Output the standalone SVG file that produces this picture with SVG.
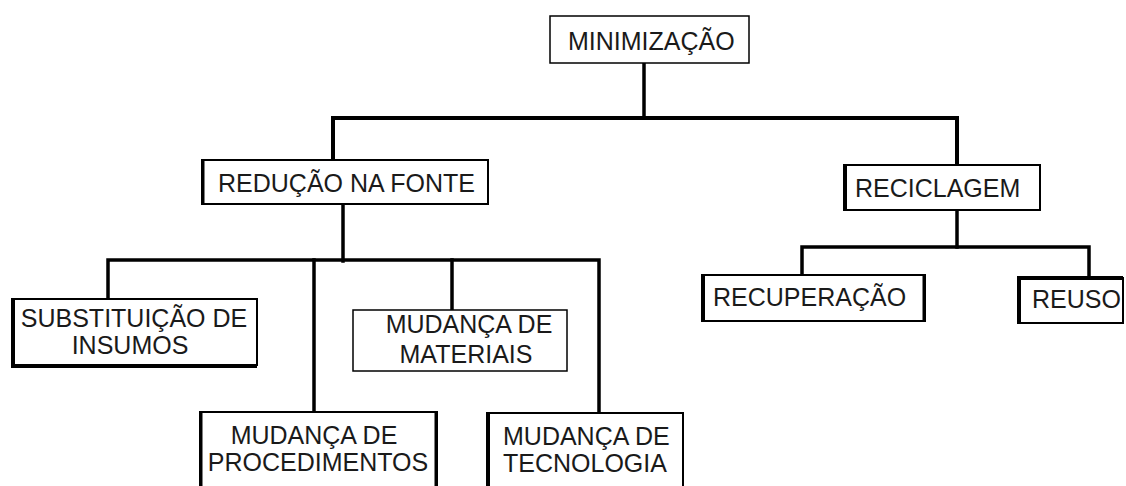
<svg xmlns="http://www.w3.org/2000/svg" width="1126" height="486" viewBox="0 0 1126 486">
<style>
.box{fill:#fff;stroke:#000;stroke-width:2}
.thin{fill:#fff;stroke:#000;stroke-width:1.5}
.edge{stroke:#000;stroke-width:4;fill:none}
.conn{stroke:#000;stroke-width:3.5;fill:none;stroke-linecap:square}
text{font-family:"Liberation Sans",Arial,sans-serif;font-size:25px;fill:#1a1a1a}
</style>
<rect width="1126" height="486" fill="#fff"/>
<g id="connectors">
<path class="conn" d="M644 63V118"/>
<path class="conn" d="M333 160V118H957V165" style="stroke-width:4"/>
<path class="conn" d="M343 204V261"/>
<path class="conn" d="M108 299V260H599V413"/>
<path class="conn" d="M314 260V412"/>
<path class="conn" d="M452 260V310"/>
<path class="conn" d="M957 210V247"/>
<path class="conn" d="M802 275V247H1089V277"/>
</g>
<g id="minimizacao">
<rect class="thin" x="550" y="16" width="199" height="47"/>
<text x="568" y="50">MINIMIZAÇÃO</text>
</g>
<g id="reducao">
<rect class="box" x="202" y="160" width="286" height="44"/>
<path class="edge" d="M203 160V204" style="stroke-width:3"/>
<text x="218" y="192">REDUÇÃO NA FONTE</text>
</g>
<g id="reciclagem">
<rect class="box" x="844" y="165" width="196" height="45"/>
<path class="edge" d="M845 164V211"/>
<text x="855" y="197">RECICLAGEM</text>
</g>
<g id="substituicao">
<rect class="box" x="12" y="299" width="245" height="66"/>
<path class="edge" d="M13 298V366H257"/>
<text x="134" y="327" text-anchor="middle">SUBSTITUIÇÃO DE</text>
<text x="130" y="354" text-anchor="middle">INSUMOS</text>
</g>
<g id="materiais">
<rect class="thin" x="353" y="310" width="214" height="61"/>
<text x="469" y="333" text-anchor="middle">MUDANÇA DE</text>
<text x="466" y="363" text-anchor="middle">MATERIAIS</text>
</g>
<g id="procedimentos">
<rect class="box" x="200" y="412" width="237" height="80"/>
<path class="edge" d="M201 411V490" style="stroke-width:3"/>
<path class="edge" d="M436 411V490" style="stroke-width:3"/>
<text x="314" y="444" text-anchor="middle">MUDANÇA DE</text>
<text x="318" y="471" text-anchor="middle">PROCEDIMENTOS</text>
</g>
<g id="tecnologia">
<rect class="box" x="487" y="413" width="196" height="80"/>
<path class="edge" d="M488 412V490"/>
<text x="503" y="445">MUDANÇA DE</text>
<text x="503" y="472">TECNOLOGIA</text>
</g>
<g id="recuperacao">
<rect class="box" x="702" y="275" width="223" height="46"/>
<path class="edge" d="M703 274V322"/>
<path class="edge" d="M924 274V322" style="stroke-width:3"/>
<text x="713" y="306">RECUPERAÇÃO</text>
</g>
<g id="reuso">
<rect class="box" x="1018" y="278" width="105" height="45"/>
<path class="edge" d="M1019 276V324M1017 278H1123"/>
<text x="1032" y="308">REUSO</text>
</g>
</svg>
